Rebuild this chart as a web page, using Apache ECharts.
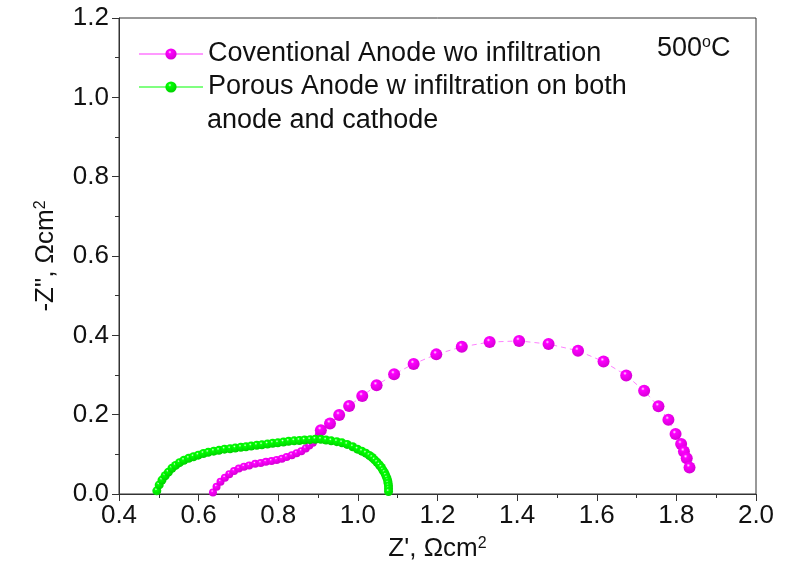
<!DOCTYPE html>
<html>
<head>
<meta charset="utf-8">
<script src="https://cdn.jsdelivr.net/npm/echarts@6/dist/echarts.min.js"></script>
<style>
html,body{margin:0;padding:0;background:#fff;}
#main{width:788px;height:574px;}
</style>
</head>
<body>
<div id="main"></div>
<script>
// ---- data ----
var pinkName = 'Coventional Anode wo infiltration';
var greenName = 'Porous Anode w infiltration on both';
var greenName2 = 'anode and cathode';
var tempLabel = '500';

var pinkX = [0.636,0.645,0.655,0.666,0.677,0.689,0.701,0.714,0.727,0.742,0.756,0.769,0.783,0.796,0.809,0.821,0.834,0.846,0.858,0.869,0.878,0.887,0.894,0.902,
             0.907,0.930,0.953,0.978,1.011,1.047,1.091,1.140,1.197,1.261,1.331,1.405,1.479,1.553,1.617,1.674,1.719,1.755,1.780,1.798,1.812,1.819,1.826,1.833];
var pinkY = [0.004,0.018,0.031,0.041,0.050,0.058,0.064,0.069,0.072,0.076,0.078,0.081,0.083,0.086,0.089,0.093,0.098,0.103,0.108,0.115,0.122,0.129,0.138,0.149,
             0.161,0.178,0.199,0.222,0.247,0.274,0.302,0.328,0.352,0.371,0.383,0.386,0.378,0.361,0.334,0.299,0.260,0.221,0.187,0.151,0.126,0.107,0.090,0.067];

var greenX = [0.495,0.501,0.508,0.516,0.524,0.533,0.542,0.552,0.563,0.575,0.587,0.599,0.612,0.624,0.638,0.651,0.665,0.679,0.692,0.706,0.719,0.732,0.746,0.759,
              0.773,0.786,0.799,0.813,0.826,0.840,0.853,0.866,0.880,0.893,0.907,0.920,0.933,0.947,0.960,0.973,0.987,0.999,1.010,1.020,1.029,1.036,1.042,1.048,
              1.054,1.059,1.063,1.067,1.070,1.073,1.075,1.076,1.077,1.077,1.077];
var greenY = [0.008,0.023,0.035,0.046,0.055,0.065,0.072,0.079,0.085,0.090,0.094,0.098,0.102,0.105,0.108,0.110,0.113,0.114,0.116,0.118,0.119,0.121,0.123,0.124,
              0.126,0.128,0.129,0.131,0.133,0.134,0.135,0.136,0.137,0.138,0.138,0.136,0.134,0.132,0.129,0.125,0.119,0.113,0.108,0.103,0.097,0.092,0.086,0.080,
              0.073,0.067,0.060,0.054,0.047,0.040,0.033,0.027,0.020,0.013,0.006];

var xMin = 0.4, xMax = 2.0, xStep = 0.2;
var yMin = 0.0, yMax = 1.2, yStep = 0.2;

function zip(a, b) { return a.map(function (v, i) { return [v, b[i]]; }); }
function ball(hi, main, dark) {
  return {
    type: 'radial', x: 0.4, y: 0.33, r: 0.68,
    colorStops: [
      { offset: 0, color: hi },
      { offset: 0.22, color: main },
      { offset: 1, color: dark }
    ]
  };
}

var FONT = 'Liberation Sans, Arial, sans-serif';
var TXT = '#111';
var FS = 26;
var FSL = 27;
var pinkDense = 24;
var supStyle = { fontFamily: FONT, fontSize: 16, color: TXT, fill: TXT, verticalAlign: 'top', lineHeight: 12 };

var chart = echarts.init(document.getElementById('main'), null, { renderer: 'canvas' });
chart.setOption({
  backgroundColor: '#fff',
  animation: false,
  grid: { left: 119, right: 32, top: 18, bottom: 80, show: true, borderColor: '#333', borderWidth: 1, backgroundColor: 'transparent' },
  legend: {
    orient: 'vertical', left: 138, top: 40, padding: 0,
    itemWidth: 64, itemHeight: 14, itemGap: 5,
    textStyle: { fontFamily: FONT, fontSize: FSL, color: TXT, lineHeight: 28 },
    data: [
      { name: pinkName, lineStyle: { type: 'solid', color: '#ff99ff' } },
      { name: greenName, lineStyle: { type: 'solid', color: '#80ff80' } }
    ]
  },
  xAxis: {
    type: 'value', min: xMin, max: xMax, interval: xStep,
    name: "Z', Ωcm{s|2}", nameLocation: 'middle', nameGap: 42,
    nameTextStyle: { fontFamily: FONT, fontSize: FS, color: TXT, rich: { s: supStyle } },
    axisLine: { show: true, lineStyle: { color: '#333', width: 1 } },
    axisTick: { show: true, inside: false, length: 7, lineStyle: { color: '#333' } },
    minorTick: { show: true, splitNumber: 2, length: 4, lineStyle: { color: '#333' } },
    splitLine: { show: false },
    axisLabel: { fontFamily: FONT, fontSize: FS, color: TXT, margin: 9, formatter: function (v) { return v.toFixed(1); } }
  },
  yAxis: {
    type: 'value', min: yMin, max: yMax, interval: yStep,
    name: '-Z", Ωcm{s|2}', nameLocation: 'middle', nameGap: 60, nameRotate: 90,
    nameTextStyle: { fontFamily: FONT, fontSize: FS, color: TXT, rich: { s: supStyle } },
    axisLine: { show: true, lineStyle: { color: '#333', width: 1 } },
    axisTick: { show: true, inside: false, length: 7, lineStyle: { color: '#333' } },
    minorTick: { show: true, splitNumber: 2, length: 4, lineStyle: { color: '#333' } },
    splitLine: { show: false },
    axisLabel: { fontFamily: FONT, fontSize: FS, color: TXT, margin: 10, formatter: function (v) { return v.toFixed(1); } }
  },
  series: [
    {
      name: pinkName, type: 'line', data: zip(pinkX, pinkY),
      symbol: 'circle',
      symbolSize: function (v, p) { return p.dataIndex < pinkDense ? 8 : 12; },
      showAllSymbol: true,
      lineStyle: { color: '#ff80ff', width: 1, type: [5, 4] },
      itemStyle: { color: ball('#ffe0ff', '#ff00ff', '#d400d4'), borderWidth: 0 },
      z: 2
    },
    {
      name: greenName, type: 'line', data: zip(greenX, greenY),
      symbol: 'circle', symbolSize: 9, showAllSymbol: true,
      lineStyle: { color: '#80ff80', width: 1 },
      itemStyle: { color: ball('#e0ffe0', '#00ff00', '#00d000'), borderWidth: 0 },
      z: 3
    }
  ],
  graphic: [
    { type: 'text', left: 207, top: 107, style: { text: greenName2, fontFamily: FONT, fontSize: FSL, fill: TXT } },
    { type: 'text', left: 657, top: 35, style: { text: tempLabel + '{s|o}C', fontFamily: FONT, fontSize: FSL, fill: TXT,
        rich: { s: supStyle } } }
  ]
});
</script>
</body>
</html>
